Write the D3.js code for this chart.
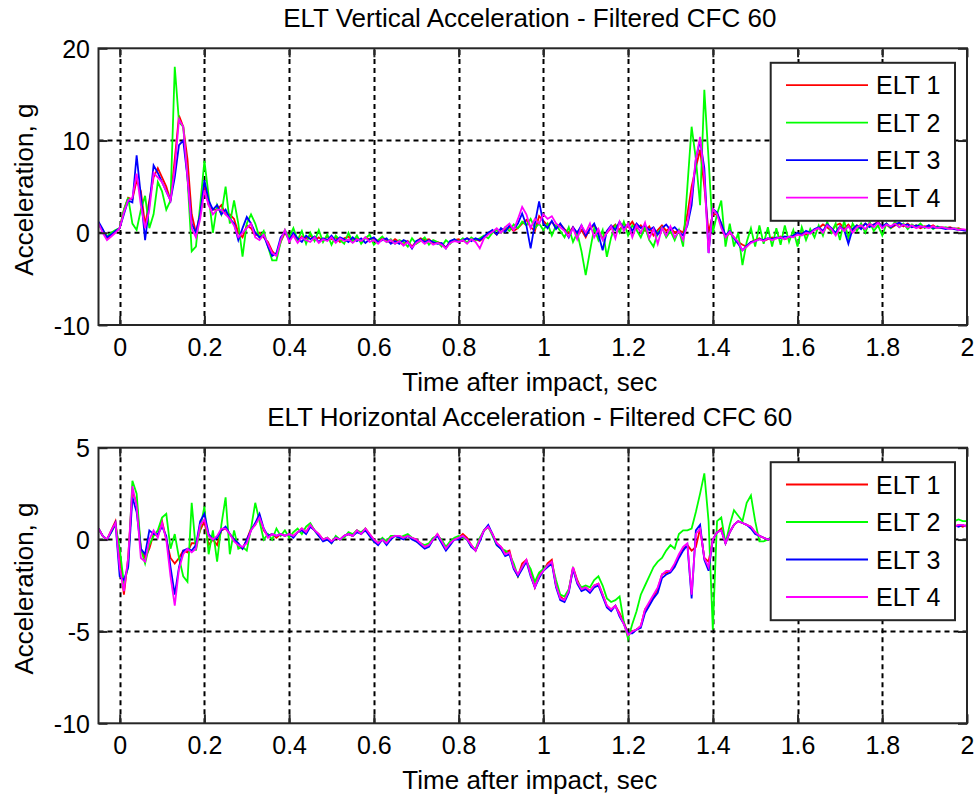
<!DOCTYPE html>
<html><head><meta charset="utf-8">
<script src="https://cdn.jsdelivr.net/npm/d3@7"></script>
<style>
body{margin:0;background:#fff}
svg text{font-family:"Liberation Sans",Arial,Helvetica,sans-serif;fill:#000}
</style>
</head><body>
<svg id="chart" width="977" height="796"></svg>
<script>
// ---------- data ----------
const time = [
-0.05,-0.04,-0.03,-0.02,-0.01,0,0.01,0.02,0.03,0.04,
0.05,0.06,0.07,0.08,0.09,0.1,0.11,0.12,0.13,0.14,
0.15,0.16,0.17,0.18,0.19,0.2,0.21,0.22,0.23,0.24,
0.25,0.26,0.27,0.28,0.29,0.3,0.31,0.32,0.33,0.34,
0.35,0.36,0.37,0.38,0.39,0.4,0.41,0.42,0.43,0.44,
0.45,0.46,0.47,0.48,0.49,0.5,0.51,0.52,0.53,0.54,
0.55,0.56,0.57,0.58,0.59,0.6,0.61,0.62,0.63,0.64,
0.65,0.66,0.67,0.68,0.69,0.7,0.71,0.72,0.73,0.74,
0.75,0.76,0.77,0.78,0.79,0.8,0.81,0.82,0.83,0.84,
0.85,0.86,0.87,0.88,0.89,0.9,0.91,0.92,0.93,0.94,
0.95,0.96,0.97,0.98,0.99,1,1.01,1.02,1.03,1.04,
1.05,1.06,1.07,1.08,1.09,1.1,1.11,1.12,1.13,1.14,
1.15,1.16,1.17,1.18,1.19,1.2,1.21,1.22,1.23,1.24,
1.25,1.26,1.27,1.28,1.29,1.3,1.31,1.32,1.33,1.34,
1.35,1.36,1.37,1.38,1.39,1.4,1.41,1.42,1.43,1.44,
1.45,1.46,1.47,1.48,1.49,1.5,1.51,1.52,1.53,1.54,
1.55,1.56,1.57,1.58,1.59,1.6,1.61,1.62,1.63,1.64,
1.65,1.66,1.67,1.68,1.69,1.7,1.71,1.72,1.73,1.74,
1.75,1.76,1.77,1.78,1.79,1.8,1.81,1.82,1.83,1.84,
1.85,1.86,1.87,1.88,1.89,1.9,1.91,1.92,1.93,1.94,
1.95,1.96,1.97,1.98,1.99,2];

const seriesNames = ["ELT 1", "ELT 2", "ELT 3", "ELT 4"];
const seriesColors = ["#ff0000", "#00ff00", "#0000ff", "#ff00ff"];
const xTickValues = [0, 0.2, 0.4, 0.6, 0.8, 1, 1.2, 1.4, 1.6, 1.8, 2];
const vertTickValues = [-10, 0, 10, 20];
const horizTickValues = [-10, -5, 0, 5];

// Vertical acceleration (g)
const vert1 = [
1.0,0.3,-0.6,-0.3,0.1,0.5,2.5,3.8,3.6,5.7,
4.5,0.8,3.5,6.0,7.0,6.0,5.0,3.5,8.0,12.7,
11.5,8.0,2.0,0.0,2.0,5.0,3.0,2.5,2.5,3.0,
2.0,2.0,1.5,0.0,-0.5,0.8,0.5,-0.3,0.0,-0.5,
-1.0,-2.0,-2.5,-1.0,0.0,-0.6,-0.2,-0.9,-0.4,-0.6,
-0.3,-0.8,-0.5,-0.9,-0.4,-0.7,-0.5,-1.0,-0.6,-0.4,
-0.8,-0.6,-1.0,-0.5,-0.7,-0.6,-0.9,-0.5,-0.8,-1.1,
-0.7,-1.0,-1.3,-0.9,-1.5,-1.0,-0.6,-0.8,-0.7,-1.1,
-1.0,-1.2,-1.6,-1.0,-0.8,-0.7,-0.9,-0.6,-0.8,-0.7,
-0.9,-0.5,-0.1,0.2,-0.2,0.4,0.3,0.6,0.2,0.5,
1.0,1.4,0.6,0.2,1.8,1.3,0.8,1.2,0.6,0.9,
0.4,0.0,0.6,-0.3,0.3,-0.5,0.5,0.8,0.2,-0.6,
0.0,0.5,0.9,0.3,1.0,0.6,1.2,0.4,0.8,0.2,
0.7,-0.3,0.3,0.8,0.2,0.6,0.0,0.3,0.0,2.0,
5.0,7.1,9.0,5.0,0.0,2.0,2.0,1.0,-0.5,0.0,
-0.5,-1.0,-1.3,-1.5,-1.0,-0.8,-0.6,-0.9,-0.7,-0.5,
-0.6,-0.4,-0.7,-0.5,-0.3,-0.2,0.0,-0.2,0.1,0.3,
0.5,0.9,0.6,0.2,0.8,1.0,0.5,0.9,0.3,0.8,
0.6,1.0,0.7,0.9,1.2,0.6,0.9,0.5,0.8,1.0,
0.7,1.0,0.6,0.8,0.5,0.7,0.6,0.8,0.5,0.6,
0.5,0.6,0.4,0.5,0.3,0.3];
const vert2 = [
1.0,0.2,-0.4,0.0,0.3,0.5,2.5,3.8,1.0,0.3,
2.5,4.0,0.5,2.0,5.5,4.5,2.5,3.5,18.0,12.0,
11.5,6.0,-2.0,-1.5,3.0,7.8,4.0,0.0,3.0,2.0,
5.0,1.0,3.5,1.0,-2.6,1.0,2.0,1.0,-0.5,0.2,
-1.5,-3.0,-3.0,-1.0,0.3,-0.5,0.5,-0.8,0.2,-1.2,
0.0,-0.9,0.3,-1.0,-0.2,-1.3,-0.3,-0.8,-1.2,0.0,
-1.0,-0.3,-1.2,-0.6,-0.2,-1.3,-0.8,-0.4,-1.0,-0.7,
-1.2,-0.8,-1.0,-1.5,-0.6,-1.2,-0.9,-0.5,-1.3,-0.8,
-1.0,-1.5,-0.8,-1.2,-0.7,-1.0,-0.6,-1.1,-0.5,-0.8,
-0.6,-0.3,-0.6,0.0,0.3,0.0,0.6,0.2,0.9,0.5,
1.2,0.8,1.5,0.5,1.0,0.3,1.0,-0.3,0.8,0.2,
-0.5,0.6,-1.0,0.0,-2.0,-4.6,-2.0,0.5,-0.8,0.3,
-2.6,-0.5,0.8,0.0,1.2,-0.3,0.8,0.3,-0.5,0.6,
-0.8,-1.5,0.0,0.6,-0.5,0.2,-0.8,0.3,-1.5,5.0,
11.5,8.0,3.0,15.5,8.0,0.0,2.0,3.5,-1.5,1.0,
-1.5,0.0,-3.5,-1.0,0.5,-1.5,0.8,-1.2,0.6,-1.5,
0.5,-1.3,0.8,-1.0,0.3,-1.5,0.6,-0.8,0.4,-0.5,
0.8,-0.3,1.2,0.0,1.0,-0.8,1.3,-0.6,1.0,0.2,
1.0,0.0,1.2,0.2,0.8,-0.3,1.0,0.5,1.2,0.6,
1.0,0.4,0.9,0.6,1.0,0.5,0.8,0.4,0.7,0.5,
0.6,0.4,0.5,0.4,0.3,0.3];
const vert3 = [
1.2,0.4,-0.5,-0.2,0.2,0.5,2.0,3.5,3.3,8.4,
4.0,-0.8,3.0,7.3,6.5,5.5,4.5,3.5,6.0,9.5,
10.0,6.0,1.0,0.0,2.0,5.7,3.5,2.5,3.0,2.0,
2.5,1.5,1.0,-0.8,0.5,1.7,1.0,0.0,-0.5,-0.3,
-1.5,-2.5,-2.2,-0.5,0.1,-0.8,0.0,-0.6,-1.0,-0.3,
-0.7,-0.4,-1.0,-0.6,-0.8,-0.3,-0.9,-0.5,-0.7,-1.0,
-0.5,-0.9,-0.6,-1.1,-0.7,-0.5,-1.0,-0.8,-0.6,-1.2,
-0.9,-1.2,-0.8,-1.0,-1.7,-0.9,-0.7,-1.0,-0.8,-1.0,
-1.2,-1.1,-1.7,-0.9,-0.7,-1.0,-0.8,-0.6,-0.9,-0.6,
-0.8,-0.4,0.0,0.3,-0.2,0.5,0.1,0.8,0.4,1.0,
2.1,0.8,-1.7,1.0,3.4,1.0,0.5,1.3,0.4,1.0,
0.3,-0.5,0.6,0.0,0.8,-0.3,0.4,1.0,-0.2,-1.9,
0.2,0.8,0.3,1.2,0.5,0.9,0.2,1.0,0.5,0.8,
0.3,0.6,-0.2,0.5,0.9,0.3,0.6,0.1,-0.3,0.8,
3.0,8.0,10.0,7.0,-2.2,2.6,2.2,1.0,-0.3,0.2,
-0.6,-1.2,-1.9,-1.4,-1.0,-0.9,-0.7,-0.8,-0.6,-0.7,
-0.5,-0.6,-0.4,-0.5,-0.3,0.0,-0.2,0.2,0.0,0.4,
0.6,0.2,0.9,0.5,0.0,0.7,0.3,-1.2,0.4,0.8,
0.4,1.0,0.6,0.9,1.1,0.7,1.0,0.6,0.9,1.1,
0.8,0.9,0.6,0.8,0.7,0.6,0.8,0.5,0.6,0.5,
0.4,0.5,0.4,0.3,0.3,0.2];
const vert4 = [
1.0,0.0,-0.8,-0.4,0.0,0.5,2.2,3.5,3.8,6.4,
3.0,0.5,2.5,6.5,6.0,5.5,4.5,3.5,7.0,12.3,
11.5,6.0,0.5,-0.5,1.5,4.6,3.0,2.0,2.5,2.5,
2.0,1.5,0.8,-0.5,0.0,0.5,1.0,-0.5,-0.8,-0.2,
-1.2,-2.2,-2.5,-0.8,0.3,-1.0,-0.3,-1.1,-0.5,-0.8,
-1.0,-0.5,-1.1,-0.7,-0.9,-0.5,-1.1,-0.6,-0.9,-0.7,
-1.1,-0.7,-0.9,-0.5,-1.0,-0.8,-1.2,-0.7,-1.0,-0.8,
-1.2,-0.9,-1.4,-1.0,-1.6,-1.1,-0.8,-1.2,-0.9,-1.3,
-1.1,-1.3,-1.7,-1.1,-0.9,-1.0,-0.8,-1.2,-0.7,-1.0,
-1.7,-0.6,-0.2,0.1,0.5,0.0,0.6,1.0,0.3,1.5,
2.8,2.0,0.5,1.5,1.0,2.0,1.5,1.8,1.0,0.6,
0.2,-0.4,0.5,-0.7,0.8,0.0,1.0,-0.5,0.4,-0.8,
0.0,0.7,-0.6,1.2,0.2,1.0,-0.5,0.8,0.0,1.1,
-0.6,0.4,-1.2,0.5,-0.3,0.7,-0.5,0.2,-0.8,1.0,
4.0,8.0,10.4,6.0,-2.2,2.6,2.0,0.5,-0.5,0.1,
-0.5,-1.0,-1.9,-1.5,-1.1,-0.9,-0.7,-0.9,-0.6,-0.8,
-0.6,-0.5,-0.7,-0.4,-0.5,-0.2,-0.3,0.0,-0.1,0.3,
0.5,0.0,0.8,0.4,-0.3,0.6,0.2,0.7,0.0,0.6,
0.8,0.4,1.0,0.6,1.1,0.5,0.9,0.7,1.0,0.6,
0.9,0.6,0.8,0.5,0.7,0.6,0.5,0.7,0.5,0.6,
0.5,0.4,0.5,0.3,0.4,0.3];

// Horizontal acceleration (g)
const horiz1 = [
0.6,0.2,0.0,0.5,1.0,-1.0,-3.0,-1.0,2.6,2.0,
-0.5,-1.0,-0.5,0.3,0.2,1.0,0.0,-1.0,-1.3,-1.0,
-0.6,-0.7,-0.2,-0.2,0.5,1.0,-0.3,0.0,-0.3,0.5,
0.6,0.3,0.0,-0.3,-0.5,0.0,0.6,0.8,1.3,0.5,
0.2,0.3,0.1,0.3,0.2,0.3,0.2,0.4,0.6,0.4,
0.8,0.5,0.3,0.0,0.1,-0.1,0.1,0.0,0.2,0.3,
0.2,0.5,0.3,0.6,0.3,0.0,-0.2,0.0,-0.2,0.1,
0.2,0.2,0.1,0.2,0.1,0.0,-0.2,-0.4,-0.3,0.0,
0.3,-0.1,-0.5,-0.2,0.0,0.1,0.3,0.1,-0.3,-0.6,
0.0,0.5,0.7,0.3,-0.2,-0.4,-0.7,-0.6,-1.5,-2.0,
-1.3,-1.1,-1.8,-2.6,-1.9,-1.7,-1.3,-1.1,-2.5,-3.1,
-3.3,-2.8,-1.5,-2.2,-2.7,-2.6,-2.8,-2.5,-2.4,-3.0,
-3.6,-3.8,-3.6,-4.0,-4.5,-5.1,-5.0,-4.9,-4.7,-3.8,
-3.5,-3.1,-2.7,-1.9,-1.8,-1.7,-1.4,-0.9,-0.5,-0.3,
-0.6,-0.4,0.6,-1.0,-1.2,0.0,0.4,0.6,-0.2,0.4,
0.8,1.0,0.9,0.8,0.7,0.4,0.2,0.1,0.0,0.1,
0.2,0.3,0.2,0.4,0.3,0.5,0.4,0.6,0.5,0.7,
0.6,0.8,0.7,0.9,0.8,1.0,0.9,0.8,1.0,0.9,
1.0,0.9,1.1,1.0,0.9,1.0,0.8,0.9,1.0,0.8,
0.9,0.8,0.9,0.7,0.8,0.9,0.8,0.7,0.8,0.9,
0.8,0.8,0.7,0.8,0.7,0.8];
const horiz2 = [
0.6,0.2,0.0,0.4,0.8,-0.5,-2.4,-1.5,3.2,2.5,
-0.5,-1.3,-0.3,0.2,0.5,1.2,1.4,-0.5,0.3,-1.0,
-2.0,-2.3,2.0,-0.6,0.6,1.8,-0.8,0.5,-1.2,0.8,
2.3,-0.8,0.5,-0.5,-0.4,-0.6,0.6,2.0,1.0,0.0,
0.3,0.0,0.6,0.2,0.5,0.1,0.4,0.6,0.3,0.7,
0.9,0.5,0.2,0.0,0.1,-0.2,0.2,0.0,0.1,0.4,
0.3,0.5,0.4,0.6,0.2,-0.1,-0.2,0.1,-0.1,0.2,
0.2,0.1,0.2,0.3,0.1,-0.1,-0.2,-0.3,-0.2,0.1,
0.2,0.0,-0.4,-0.1,0.1,0.2,0.1,0.0,-0.4,-0.5,
0.1,0.5,0.7,0.2,-0.3,-0.5,-0.6,-0.8,-1.3,-2.0,
-1.5,-1.2,-1.6,-2.3,-1.8,-1.6,-1.4,-1.3,-2.2,-3.0,
-3.1,-2.7,-1.6,-2.3,-2.6,-2.5,-2.6,-2.2,-2.0,-2.5,
-3.2,-3.4,-3.3,-3.1,-4.5,-5.4,-4.6,-3.9,-3.0,-2.5,
-2.0,-1.5,-1.2,-1.0,-0.6,-0.3,-0.5,0.3,0.5,0.5,
0.6,1.5,2.5,3.6,1.0,-4.9,1.0,1.2,-0.2,0.8,
1.6,1.3,1.0,2.0,2.4,1.0,-0.1,-0.1,0.0,0.2,
0.4,0.3,0.5,0.4,0.6,0.5,0.7,0.6,0.8,0.7,
0.9,0.8,1.0,0.9,1.1,1.0,0.9,1.1,1.0,1.1,
1.0,1.2,1.1,1.0,1.1,0.9,1.0,1.1,0.9,1.0,
1.1,1.0,0.9,1.0,1.1,1.0,0.9,1.0,1.1,1.0,
1.0,1.1,1.0,1.1,1.0,1.0];
const horiz3 = [
0.6,0.2,0.0,0.4,0.9,-2.0,-2.2,-1.5,2.3,1.5,
-0.5,-0.8,0.5,0.3,0.3,0.7,0.2,-1.5,-3.0,-1.5,
-0.6,-0.5,-0.6,-0.3,1.0,1.4,0.3,0.0,0.1,0.5,
0.7,0.3,0.0,-0.2,-0.5,0.0,0.5,0.9,1.4,0.6,
0.2,0.3,0.2,0.3,0.2,0.3,0.1,0.4,0.5,0.3,
0.7,0.5,0.2,-0.1,0.0,-0.2,0.1,0.0,0.2,0.3,
0.2,0.4,0.3,0.5,0.2,-0.1,-0.3,0.0,-0.3,0.0,
0.2,0.1,0.0,0.2,0.0,-0.1,-0.3,-0.5,-0.4,0.0,
0.2,-0.2,-0.6,-0.3,0.0,0.0,0.2,0.0,-0.4,-0.6,
-0.1,0.5,0.8,0.3,-0.3,-0.5,-0.9,-0.8,-1.6,-2.0,
-1.6,-1.2,-2.0,-2.6,-2.1,-1.7,-1.5,-1.3,-2.6,-3.3,
-3.4,-2.9,-1.6,-2.4,-2.8,-2.7,-2.9,-2.6,-2.5,-3.1,
-3.7,-3.9,-3.6,-4.2,-4.6,-5.1,-5.1,-4.9,-4.8,-4.0,
-3.6,-3.2,-2.9,-2.1,-1.9,-1.8,-1.5,-1.0,-0.6,-0.3,
-3.2,0.5,0.8,-1.1,-1.7,0.0,0.4,0.5,-0.2,0.4,
0.8,1.0,0.9,0.8,0.6,0.3,0.2,0.1,0.0,0.1,
0.1,0.3,0.2,0.3,0.4,0.4,0.5,0.5,0.6,0.6,
0.7,0.7,0.8,0.8,0.9,0.9,0.8,0.9,0.9,1.0,
0.9,1.0,1.0,0.9,1.0,0.9,0.9,0.8,0.9,0.9,
0.8,0.9,0.8,0.8,0.9,0.8,0.8,0.7,0.8,0.8,
0.8,0.7,0.8,0.7,0.8,0.7];
const horiz4 = [
0.6,0.2,0.0,0.5,0.9,-1.5,-2.8,-1.0,2.9,1.8,
-1.0,-1.2,0.0,0.5,0.1,0.9,0.0,-2.0,-3.6,-1.6,
-0.8,-0.5,-0.7,-0.5,0.8,1.1,0.2,0.0,0.2,0.6,
0.6,0.3,-0.1,-0.3,-0.4,-0.2,0.5,0.8,1.2,0.6,
0.1,0.3,0.2,0.3,0.2,0.3,0.2,0.4,0.6,0.4,
0.8,0.5,0.3,0.0,0.1,-0.1,0.1,0.0,0.2,0.3,
0.2,0.5,0.3,0.6,0.3,0.0,-0.2,0.0,-0.2,0.1,
0.2,0.2,0.1,0.2,0.1,0.0,-0.2,-0.4,-0.3,0.0,
0.3,-0.1,-0.5,-0.2,0.0,0.1,0.2,0.0,-0.3,-0.6,
0.0,0.5,0.7,0.3,-0.2,-0.4,-0.8,-0.7,-1.5,-1.9,
-1.5,-1.1,-1.9,-2.6,-2.0,-1.7,-1.4,-1.2,-2.5,-3.2,
-3.3,-2.8,-1.5,-2.3,-2.7,-2.6,-2.8,-2.5,-2.4,-3.0,
-3.6,-3.8,-3.6,-4.1,-4.6,-5.2,-5.0,-4.9,-4.7,-3.8,
-3.4,-3.0,-2.6,-1.9,-1.7,-1.7,-1.3,-0.8,-0.4,-0.2,
-3.0,0.3,0.6,-1.0,-1.5,0.0,0.4,0.5,-0.2,0.4,
0.8,1.0,0.9,0.8,0.7,0.4,0.2,0.1,0.0,0.1,
0.2,0.2,0.3,0.3,0.4,0.4,0.5,0.6,0.5,0.6,
0.7,0.8,0.7,0.8,0.9,0.9,1.0,0.9,0.9,1.0,
1.0,0.9,1.0,1.0,0.9,0.9,1.0,0.9,0.8,0.9,
0.9,0.8,0.8,0.9,0.8,0.8,0.7,0.8,0.8,0.7,
0.8,0.8,0.7,0.8,0.8,0.7];

// ---------- drawing ----------
const svg = d3.select("#chart");
const W = 977;
const left = 98.5, right = 967;
const x = d3.scaleLinear().domain([-0.05, 2]).range([left, right]);
const fmt = d => String(+d.toFixed(1));
const axisColor = "#262626";
const tickLen = 9;

function panel(cfg, idx) {
  const y = d3.scaleLinear().domain(cfg.domain).range([cfg.bottom, cfg.top]);
  const g = svg.append("g");
  const clipId = "clip" + idx;
  g.append("clipPath").attr("id", clipId).append("rect")
    .attr("x", left).attr("y", cfg.top).attr("width", right - left).attr("height", cfg.bottom - cfg.top);

  // grid
  const grid = g.append("g").attr("stroke", "#000").attr("stroke-width", 2)
    .attr("stroke-dasharray", "5,4").attr("fill", "none");
  grid.selectAll("line.vx").data(xTickValues.filter(d => d > -0.05 && d < 2)).join("line")
    .attr("x1", d => Math.round(x(d)) + 0.5).attr("x2", d => Math.round(x(d)) + 0.5)
    .attr("y1", cfg.bottom).attr("y2", cfg.top);
  grid.selectAll("line.hy").data(cfg.ticks.filter(d => d > cfg.domain[0] && d < cfg.domain[1])).join("line")
    .attr("y1", d => y(d)).attr("y2", d => y(d))
    .attr("x1", left).attr("x2", right);

  // data lines
  const line = d3.line().x((d, i) => x(time[i])).y(d => y(d));
  const lines = g.append("g").attr("clip-path", `url(#${clipId})`);
  cfg.series.forEach((s, k) => {
    lines.append("path").attr("d", line(s)).attr("fill", "none")
      .attr("stroke", seriesColors[k]).attr("stroke-width", 1.8)
      .attr("stroke-linejoin", "miter");
  });

  // axes (box + inward ticks using d3 axes)
  const axB = d3.axisBottom(x).tickValues(xTickValues).tickSizeInner(-tickLen).tickSizeOuter(0).tickFormat(fmt).tickPadding(tickLen + 8);
  const axT = d3.axisTop(x).tickValues(xTickValues).tickSizeInner(-tickLen).tickSizeOuter(0).tickFormat("");
  const axL = d3.axisLeft(y).tickValues(cfg.ticks).tickSizeInner(-tickLen).tickSizeOuter(0).tickFormat(d => d).tickPadding(tickLen + 8);
  const axR = d3.axisRight(y).tickValues(cfg.ticks).tickSizeInner(-tickLen).tickSizeOuter(0).tickFormat("");
  const style = sel => {
    sel.select(".domain").remove();
    sel.selectAll(".tick line").attr("stroke", axisColor).attr("stroke-width", 2);
    sel.selectAll(".tick text").attr("fill", "#000").style("font-size", "25px")
      .style("font-family", '"Liberation Sans",Arial,sans-serif');
  };
  g.append("g").attr("transform", `translate(0,${cfg.bottom})`).call(axB).call(style)
    .selectAll(".tick text").attr("y", 30.5).attr("dy", 0);
  g.append("g").attr("transform", `translate(0,${cfg.top})`).call(axT).call(style);
  g.append("g").attr("transform", `translate(${left},0)`).call(axL).call(style)
    .selectAll(".tick text").attr("x", -8.5).attr("dy", "0.36em");
  g.append("g").attr("transform", `translate(${right},0)`).call(axR).call(style);

  g.append("rect").attr("x", left).attr("y", cfg.top).attr("width", right - left)
    .attr("height", cfg.bottom - cfg.top).attr("fill", "none")
    .attr("stroke", axisColor).attr("stroke-width", 2);

  // title & labels
  g.append("text").attr("x", (left + right) / 2 - 3).attr("y", cfg.top - 21.5)
    .attr("text-anchor", "middle").style("font-size", "26px").text(cfg.title);
  g.append("text").attr("x", (left + right) / 2 - 3).attr("y", cfg.bottom + 66)
    .attr("text-anchor", "middle").style("font-size", "26px").text("Time after impact, sec");
  g.append("text").attr("transform", `translate(33,${(cfg.top + cfg.bottom) / 2 + 3}) rotate(-90)`)
    .attr("text-anchor", "middle").style("font-size", "26px").text("Acceleration, g");

  // legend
  const lx = 770.7, lw = 184.3, ly = cfg.top + 14.5, lh = 158;
  const lg = g.append("g");
  lg.append("rect").attr("x", lx).attr("y", ly).attr("width", lw).attr("height", lh)
    .attr("fill", "#fff").attr("stroke", axisColor).attr("stroke-width", 2);
  seriesNames.forEach((name, k) => {
    const cy = ly + 22.3 + k * 37.5;
    lg.append("line").attr("x1", 786).attr("x2", 868).attr("y1", cy).attr("y2", cy)
      .attr("stroke", seriesColors[k]).attr("stroke-width", 1.8);
    lg.append("text").attr("x", 876).attr("y", cy).attr("dy", "0.36em")
      .style("font-size", "25px").text(name);
  });
}

panel({
  title: "ELT Vertical Acceleration - Filtered CFC 60",
  top: 48.3, bottom: 325, domain: [-10, 20], ticks: vertTickValues,
  series: [vert1, vert2, vert3, vert4]
}, 0);
panel({
  title: "ELT Horizontal Acceleration - Filtered CFC 60",
  top: 447.7, bottom: 723.3, domain: [-10, 5], ticks: horizTickValues,
  series: [horiz1, horiz2, horiz3, horiz4]
}, 1);
</script>
</body></html>
